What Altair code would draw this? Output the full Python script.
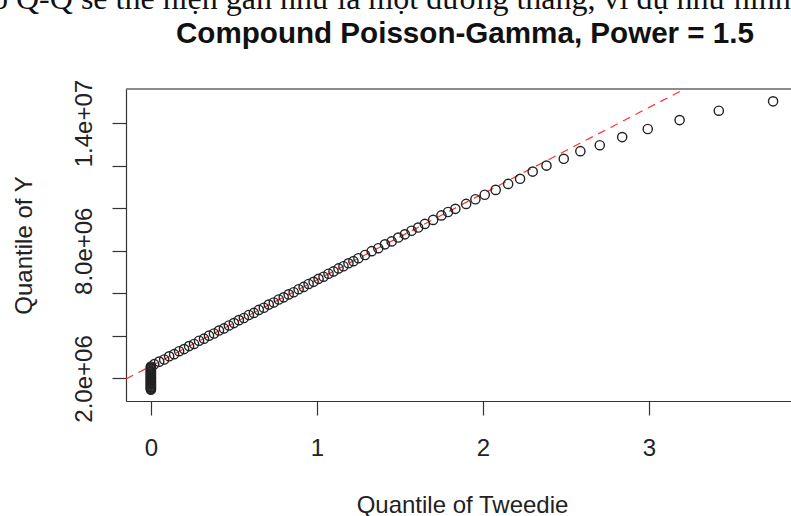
import altair as alt
import pandas as pd

# ---- text ----
caption_text = "ồ Q-Q sẽ thể hiện gần như là một đường thẳng, ví dụ như hình"
title_text = "Compound Poisson-Gamma, Power = 1.5"
x_title = "Quantile of Tweedie"
y_title = "Quantile of Y"

# ---- data (y in millions) ----
zero_y = [1.47, 1.51, 1.54, 1.59, 1.62, 1.66, 1.71, 1.74, 1.78, 1.83, 1.86, 1.90, 1.95,
          1.98, 2.03, 2.06, 2.10, 2.15, 2.18, 2.23, 2.27, 2.32, 2.36, 2.42, 2.46, 2.51, 2.56]

body_x = [0.02, 0.05, 0.08, 0.11, 0.14, 0.17, 0.20, 0.23, 0.26, 0.29, 0.32, 0.35, 0.38,
          0.41, 0.44, 0.47, 0.50, 0.53, 0.56, 0.59, 0.62, 0.65, 0.68, 0.71, 0.74, 0.77,
          0.80, 0.83, 0.86, 0.89, 0.92, 0.95, 0.98, 1.01, 1.04, 1.07, 1.10, 1.13, 1.16,
          1.19, 1.22, 1.25, 1.29, 1.33, 1.37, 1.41, 1.45, 1.49, 1.53, 1.57, 1.61, 1.65,
          1.70, 1.75, 1.79]
body_y = [2.67, 2.79, 2.89, 3.04, 3.14, 3.28, 3.38, 3.52, 3.62, 3.77, 3.87, 4.01, 4.11,
          4.25, 4.35, 4.49, 4.60, 4.74, 4.84, 4.98, 5.08, 5.22, 5.32, 5.47, 5.57, 5.71,
          5.81, 5.95, 6.05, 6.19, 6.30, 6.44, 6.54, 6.68, 6.78, 6.92, 7.03, 7.17, 7.27,
          7.41, 7.51, 7.65, 7.80, 7.98, 8.12, 8.30, 8.44, 8.62, 8.77, 8.94, 9.09, 9.26,
          9.45, 9.66, 9.82]

tail_x = [1.834, 1.899, 1.955, 2.011, 2.077, 2.152, 2.224, 2.300, 2.383, 2.487, 2.587,
          2.704, 2.839, 2.993, 3.185, 3.421, 3.748]
tail_y = [9.97, 10.20, 10.42, 10.63, 10.86, 11.14, 11.38, 11.72, 12.00, 12.32, 12.68,
          12.96, 13.34, 13.72, 14.14, 14.58, 15.02]

# reference (qqline)
ref_x = [-0.15, 3.856]
ref_intercept = 2.58   # millions
ref_slope = 4.05       # millions per unit

x_ticks = [0, 1, 2, 3]
y_ticks = [2e6, 4e6, 6e6, 8e6, 1e7, 1.2e7, 1.4e7]
y_tick_labels = {2000000: "2.0e+06", 8000000: "8.0e+06", 14000000: "1.4e+07"}

# ---- tables ----
pts = pd.DataFrame({
    "x": [0.0] * len(zero_y) + body_x + tail_x,
    "y": [v * 1e6 for v in zero_y + body_y + tail_y],
})
ref = pd.DataFrame({
    "x": ref_x,
    "y": [(ref_intercept + ref_slope * v) * 1e6 for v in ref_x],
})
one = pd.DataFrame({"k": [0]})

W, H = 665, 312
FONT = "Liberation Sans"

label_expr = " : ".join(
    [f"datum.value == {k} ? '{v}'" for k, v in y_tick_labels.items()]
) + " : ''"

xscale = alt.Scale(domain=[-0.15, 3.856], nice=False, zero=False)
yscale = alt.Scale(domain=[0.94e6, 15.6e6], nice=False, zero=False)

xaxis = alt.Axis(
    values=x_ticks, format="d", grid=False, labelFlush=False, labelOverlap=False,
    tickSize=14, tickWidth=1.2, tickColor="#333", domainColor="#333", domainWidth=1.2,
    labelPadding=21, labelBaseline="top", labelFont=FONT, labelFontSize=24,
    labelColor="#222", title=x_title, titleFont=FONT, titleFontSize=24,
    titleFontWeight="normal", titleColor="#222", titleX=336, titleY=111,
    titleAlign="center", titleBaseline="alphabetic",
)
yaxis = alt.Axis(
    values=y_ticks, labelExpr=label_expr, grid=False, labelFlush=False,
    labelOverlap=False, tickSize=14, tickWidth=1.2, tickColor="#333",
    domainColor="#333", domainWidth=1.2, labelPadding=21, labelAngle=270,
    labelAlign="center", labelBaseline="alphabetic", labelFont=FONT, labelFontSize=24,
    labelColor="#222", title=y_title, titleFont=FONT, titleFontSize=24,
    titleFontWeight="normal", titleColor="#222", titleAngle=270, titleX=-95,
    titleY=156, titleAlign="center", titleBaseline="alphabetic",
)

points = alt.Chart(pts).mark_point(
    shape="circle", filled=False, size=85, strokeWidth=1.4, color="#222", opacity=1
).encode(
    x=alt.X("x:Q", scale=xscale, axis=xaxis),
    y=alt.Y("y:Q", scale=yscale, axis=yaxis),
)

refline = alt.Chart(ref).mark_line(
    color="#ff3030", strokeWidth=1.2, strokeDash=[8, 6], clip=True
).encode(
    x=alt.X("x:Q", scale=xscale),
    y=alt.Y("y:Q", scale=yscale),
)

top_border = alt.Chart(one).mark_rule(color="#666", strokeWidth=1.6).encode(
    x=alt.value(0), x2=alt.value(W), y=alt.value(0)
)

title_mark = alt.Chart(one).mark_text(
    font=FONT, fontSize=29.6, fontWeight="bold", color="#111",
    align="center", baseline="alphabetic"
).encode(x=alt.value(339), y=alt.value(-46), text=alt.value(title_text))

caption_mark = alt.Chart(one).mark_text(
    font="Liberation Serif", fontSize=32, color="#111",
    align="left", baseline="alphabetic"
).encode(x=alt.value(-134), y=alt.value(-80), text=alt.value(caption_text))

chart = alt.layer(refline, points, top_border, title_mark, caption_mark).properties(
    width=W, height=H,
    autosize=alt.AutoSizeParams(type="none"),
    padding={"left": 126, "top": 89, "right": 0, "bottom": 115},
    background="white",
).configure_view(strokeWidth=0)

chart.save("out.html", embed_options={"renderer": "svg", "actions": False})
